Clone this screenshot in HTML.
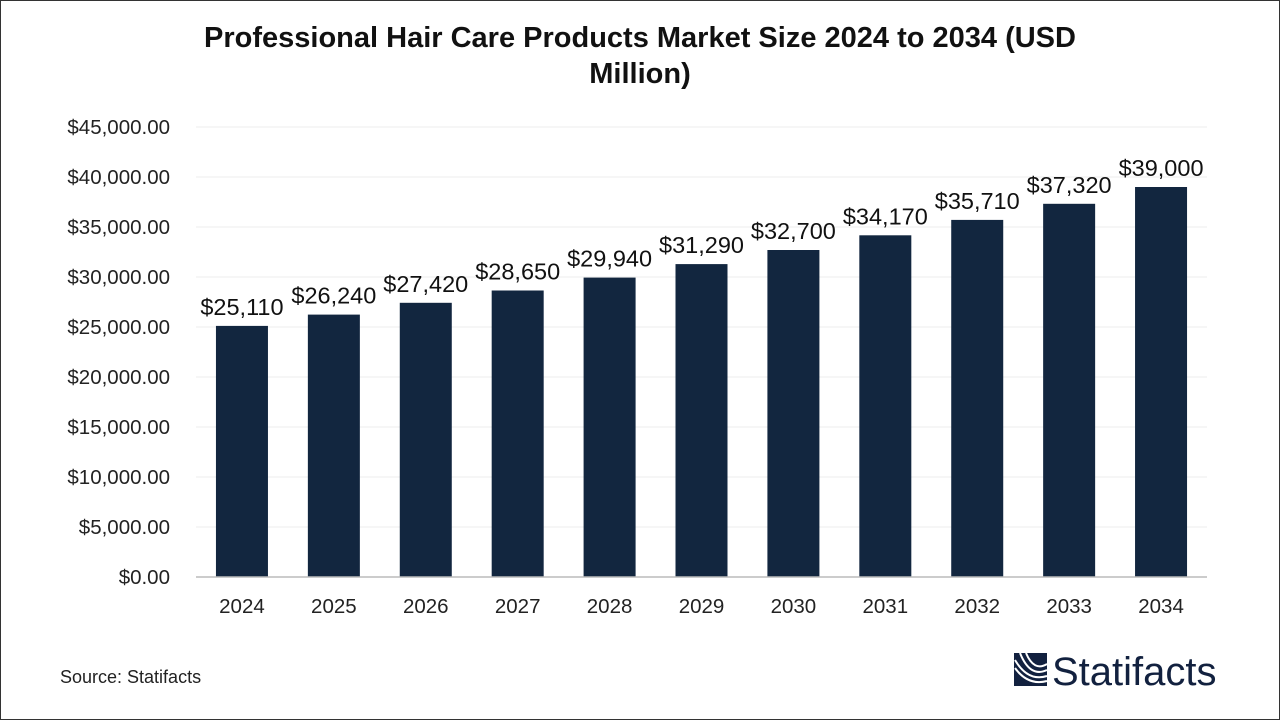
<!DOCTYPE html>
<html><head><meta charset="utf-8"><style>
body{margin:0;width:1280px;height:720px;background:#fff;font-family:"Liberation Sans",sans-serif;overflow:hidden}
#frame{position:absolute;left:0;top:0;width:1278px;height:718px;border:1px solid #333}
</style></head><body>
<div id="frame"></div>
<svg id="c" width="1280" height="720" style="position:absolute;left:0;top:0">
<text x="640" y="47" text-anchor="middle" font-size="29" font-weight="bold" fill="#111">Professional Hair Care Products Market Size 2024 to 2034 (USD</text>
<text x="640" y="83" text-anchor="middle" font-size="29" font-weight="bold" fill="#111">Million)</text>
<text x="60" y="683" font-size="18" fill="#222">Source: Statifacts</text>
<g>
<rect x="1014" y="653" width="33" height="33" fill="#12213f"/>
<path d="M1026 653 Q1034 672 1047 664 M1020 653 Q1030 678 1047 670 M1015 660 Q1028 682 1047 676 M1015 668 Q1028 686 1047 681" stroke="#fff" stroke-width="2" fill="none"/>
<text x="1052" y="685" font-size="40" fill="#12213f">Statifacts</text>
</g>
<g id="g"></g>
</svg>
<script>
const categories=["2024","2025","2026","2027","2028","2029","2030","2031","2032","2033","2034"];
const values=[25110,26240,27420,28650,29940,31290,32700,34170,35710,37320,39000];
const labels=["$25,110","$26,240","$27,420","$28,650","$29,940","$31,290","$32,700","$34,170","$35,710","$37,320","$39,000"];
const ticks=[0,5000,10000,15000,20000,25000,30000,35000,40000,45000];
const NS="http://www.w3.org/2000/svg",g=document.getElementById('g');
const L=196,R=1207,T=127,B=577,max=45000;
const y=v=>B-(v/max)*(B-T);
const step=(R-L)/categories.length;
const x=i=>L+step*(i+0.5);
function mk(t,a){const e=document.createElementNS(NS,t);for(const k in a)e.setAttribute(k,a[k]);g.appendChild(e);return e;}
ticks.forEach(t=>{
 if(t>0){const l=mk('line',{x1:L,x2:R,y1:y(t),y2:y(t),stroke:'#ececec','stroke-width':1});
 
 }
 const tx=mk('text',{x:170,y:y(t)+7,'text-anchor':'end','font-size':20.5,fill:'#222'});
 tx.textContent='$'+t.toLocaleString('en-US',{minimumFractionDigits:2});
 
 
});
values.forEach((v,i)=>{
 const r=mk('rect',{x:x(i)-26,y:y(v),width:52,height:B-y(v),fill:'#12263f'});
 
 
 const t=mk('text',{x:x(i),y:y(v)-11,'text-anchor':'middle','font-size':23.5,fill:'#111'});
 t.textContent=labels[i];
 
 
 const c=mk('text',{x:x(i),y:613,'text-anchor':'middle','font-size':20.5,fill:'#222'});
 c.textContent=categories[i];
 
 
});
const ax=mk('line',{x1:L,x2:R,y1:B,y2:B,stroke:'#bbb','stroke-width':1.5});


</script>
</body></html>
